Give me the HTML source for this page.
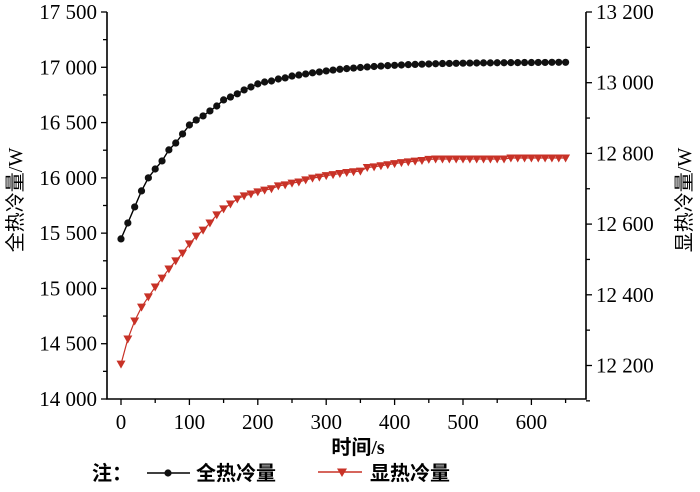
<!DOCTYPE html>
<html><head><meta charset="utf-8"><style>
body{margin:0;background:#fff;}
svg{display:block;}
.num{font-family:"Liberation Serif","DejaVu Serif","Times New Roman",serif;}
.cj{font-family:"Liberation Serif","Noto Sans CJK SC",sans-serif;}
</style></head><body>
<svg id="chart" width="700" height="492" viewBox="0 0 700 492"></svg>
<script>
const times=[0,10,20,30,40,50,60,70,80,90,100,110,120,130,140,150,160,170,180,190,200,210,220,230,240,250,260,270,280,290,300,310,320,330,340,350,360,370,380,390,400,410,420,430,440,450,460,470,480,490,500,510,520,530,540,550,560,570,580,590,600,610,620,630,640,650];
const totalCooling=[15448,15592,15737,15882,16000,16080,16153,16253,16315,16397,16478,16523,16560,16605,16650,16705,16731,16760,16795,16822,16850,16867,16876,16894,16904,16921,16930,16940,16950,16958,16967,16975,16982,16988,16993,16998,17003,17007,17011,17015,17018,17021,17024,17026,17028,17030,17032,17034,17035,17036,17037,17038,17039,17040,17040,17041,17041,17042,17042,17043,17043,17044,17044,17045,17045,17045];
const sensibleCooling=[12204,12275,12326,12365,12394,12422,12447,12473,12496,12518,12544,12566,12583,12603,12626,12643,12657,12671,12680,12685,12691,12696,12700,12708,12711,12716,12719,12725,12730,12733,12737,12740,12743,12746,12748,12750,12760,12762,12765,12768,12771,12774,12776,12778,12780,12783,12784,12784,12784,12784,12784,12784,12784,12784,12784,12784,12784,12787,12787,12787,12787,12787,12787,12787,12787,12787];
const xTicks=[0,100,200,300,400,500,600];
const leftTicks=[14000,14500,15000,15500,16000,16500,17000,17500];
const rightTicks=[12200,12400,12600,12800,13000,13200];

const NS="http://www.w3.org/2000/svg";
const svg=document.getElementById('chart');
const L=107,R=586,T=12,B=399;
const xS=v=>121+(v-0)*0.684;
const yL=v=>B-(v-14000)/3500*(B-T);
const yR=v=>T+(13200-v)/200*70.7;
function mk(tag,attrs,parent){const e=document.createElementNS(NS,tag);for(const k in attrs)e.setAttribute(k,attrs[k]);(parent||svg).appendChild(e);return e;}
function fmt2(v){const s=String(v);return s.slice(0,s.length-3)+' '+s.slice(-3);}

const axes=mk('path',{d:`M${L},${T}V${B}H${R}V${T}`,fill:'none',stroke:'#000','stroke-width':1.6});


for(let v=14000;v<=17500;v+=250){const y=yL(v);const major=v%500===0;
 const t=mk('line',{x1:L,x2:L-(major?6:4),y1:y,y2:y,stroke:'#000','stroke-width':1.3});
 
 }
leftTicks.forEach(v=>{const t=mk('text',{x:97,y:yL(v)+7,'text-anchor':'end','font-size':21,class:'num'});t.textContent=fmt2(v);
 
 });
for(let v=12100;v<=13200;v+=100){const y=yR(v);const major=v%200===0;
 const t=mk('line',{x1:R,x2:R+(major?6:4),y1:y,y2:y,stroke:'#000','stroke-width':1.3});
 
 }
rightTicks.forEach(v=>{const t=mk('text',{x:596,y:yR(v)+7,'text-anchor':'start','font-size':21,class:'num'});t.textContent=fmt2(v);
 
 });
for(let v=0;v<=650;v+=50){const x=xS(v);const major=v%100===0;
 const t=mk('line',{x1:x,x2:x,y1:B,y2:B+(major?6:4),stroke:'#000','stroke-width':1.3});
 
 }
xTicks.forEach(v=>{const t=mk('text',{x:xS(v),y:429,'text-anchor':'middle','font-size':21,class:'num'});t.textContent=v;
 
 });
let tt=mk('text',{x:358,y:454,'text-anchor':'middle','font-size':20,'font-weight':'bold',class:'cj'});tt.textContent='时间/s';


tt=mk('text',{x:0,y:0,'text-anchor':'middle','font-size':20,class:'cj',transform:'translate(22,200) rotate(-90)'});tt.textContent='全热冷量/W';


tt=mk('text',{x:0,y:0,'text-anchor':'middle','font-size':20,class:'cj',transform:'translate(691,200) rotate(-90)'});tt.textContent='显热冷量/W';



const pb=mk('polyline',{points:times.map((t,i)=>xS(t)+','+yL(totalCooling[i])).join(' '),fill:'none',stroke:'#000','stroke-width':1.4});


times.forEach((t,i)=>{const c=mk('circle',{cx:xS(t),cy:yL(totalCooling[i]),r:3.6,fill:'#111'});
 
 });
const pr=mk('polyline',{points:times.map((t,i)=>xS(t)+','+yR(sensibleCooling[i])).join(' '),fill:'none',stroke:'#c83227','stroke-width':1.2});


times.forEach((t,i)=>{const x=xS(t),y=yR(sensibleCooling[i]);
 const p=mk('polygon',{points:`${x-4.5},${y-3.5} ${x+4.5},${y-3.5} ${x},${y+4.5}`,fill:'#c83227'});
 
 });

const lg=mk('g',{});


let t1=mk('text',{x:92,y:480,'font-size':20,'font-weight':'bold',class:'cj'},lg);t1.textContent='注：';


mk('line',{x1:147,x2:190,y1:473,y2:473,stroke:'#000','stroke-width':1.4},lg);
mk('circle',{cx:168,cy:473,r:3.6,fill:'#111'},lg);
t1=mk('text',{x:196,y:480,'font-size':20,'font-weight':'bold',class:'cj'},lg);t1.textContent='全热冷量';


mk('line',{x1:318,x2:362,y1:472,y2:472,stroke:'#c83227','stroke-width':1.4},lg);
mk('polygon',{points:'337,468.5 347,468.5 342,477',fill:'#c83227'},lg);
t1=mk('text',{x:370,y:480,'font-size':20,'font-weight':'bold',class:'cj'},lg);t1.textContent='显热冷量';


</script>
</body></html>
